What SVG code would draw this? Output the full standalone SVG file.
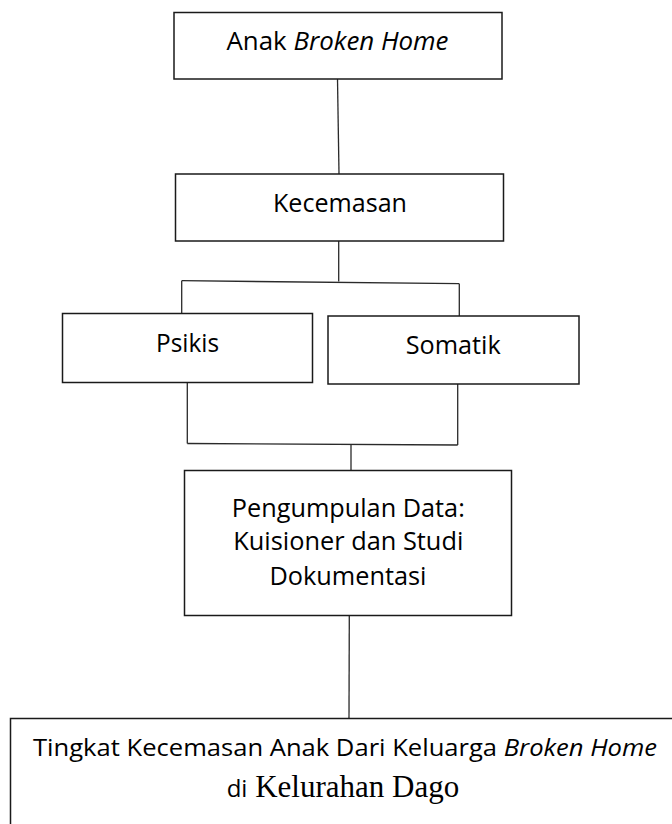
<svg xmlns="http://www.w3.org/2000/svg" width="672" height="824" viewBox="0 0 672 824">
<style>
.box{fill:#fff;stroke:#1a1a1a;stroke-width:1.5}
.con{fill:none;stroke:#2a2a2a;stroke-width:1.3}
.t{font-family:"Open Sans","Liberation Sans",sans-serif;font-size:25px;fill:#000;text-anchor:middle}
.b{font-size:24px}
.i{font-style:italic}
.s{font-family:"Liberation Serif","Times New Roman",serif;font-size:31px}
</style>
<rect width="672" height="824" fill="#fff"/>
<g id="connectors">
<line class="con" x1="337.5" y1="79" x2="339" y2="174"/>
<line class="con" x1="338.7" y1="241" x2="338.7" y2="281.5"/>
<line class="con" x1="181.7" y1="280.7" x2="459.3" y2="283.7"/>
<line class="con" x1="181.7" y1="280.7" x2="181.7" y2="313.5"/>
<line class="con" x1="459.3" y1="283.7" x2="459.3" y2="316"/>
<line class="con" x1="187.3" y1="382.5" x2="187.3" y2="443.5"/>
<line class="con" x1="457.7" y1="384" x2="457.7" y2="445"/>
<line class="con" x1="187.3" y1="443.5" x2="457.7" y2="445"/>
<line class="con" x1="351" y1="444" x2="351" y2="470.5"/>
<line class="con" x1="349.3" y1="615.5" x2="349" y2="718.5"/>
</g>
<g id="anak">
<rect class="box" x="174" y="12.5" width="328" height="66.5"/>
<text class="t" x="337.5" y="49.5" textLength="222" lengthAdjust="spacingAndGlyphs">Anak <tspan class="i">Broken Home</tspan></text>
</g>
<g id="kecemasan">
<rect class="box" x="175.5" y="174" width="328" height="67"/>
<text class="t" x="340" y="211.5" textLength="134" lengthAdjust="spacingAndGlyphs">Kecemasan</text>
</g>
<g id="psikis">
<rect class="box" x="62.5" y="313.5" width="250" height="69"/>
<text class="t" x="187.6" y="351.5" textLength="63" lengthAdjust="spacingAndGlyphs">Psikis</text>
</g>
<g id="somatik">
<rect class="box" x="328" y="316" width="251" height="68"/>
<text class="t" x="453.2" y="354" textLength="95" lengthAdjust="spacingAndGlyphs">Somatik</text>
</g>
<g id="pengumpulan">
<rect class="box" x="184.5" y="470.5" width="327" height="145"/>
<text class="t" x="348.3" y="516.5" textLength="233" lengthAdjust="spacingAndGlyphs">Pengumpulan Data:</text>
<text class="t" x="348.3" y="550" textLength="230" lengthAdjust="spacingAndGlyphs">Kuisioner dan Studi</text>
<text class="t" x="348" y="585" textLength="157" lengthAdjust="spacingAndGlyphs">Dokumentasi</text>
</g>
<g id="tingkat">
<rect class="box" x="10.5" y="718.5" width="690" height="130"/>
<text class="t b" x="345" y="755.5" textLength="624" lengthAdjust="spacingAndGlyphs">Tingkat Kecemasan Anak Dari Keluarga <tspan class="i">Broken Home</tspan></text>
<text class="t b" x="226.7" y="797.3" style="text-anchor:start">di<tspan class="s"> Kelurahan Dago</tspan></text>
</g>
</svg>
